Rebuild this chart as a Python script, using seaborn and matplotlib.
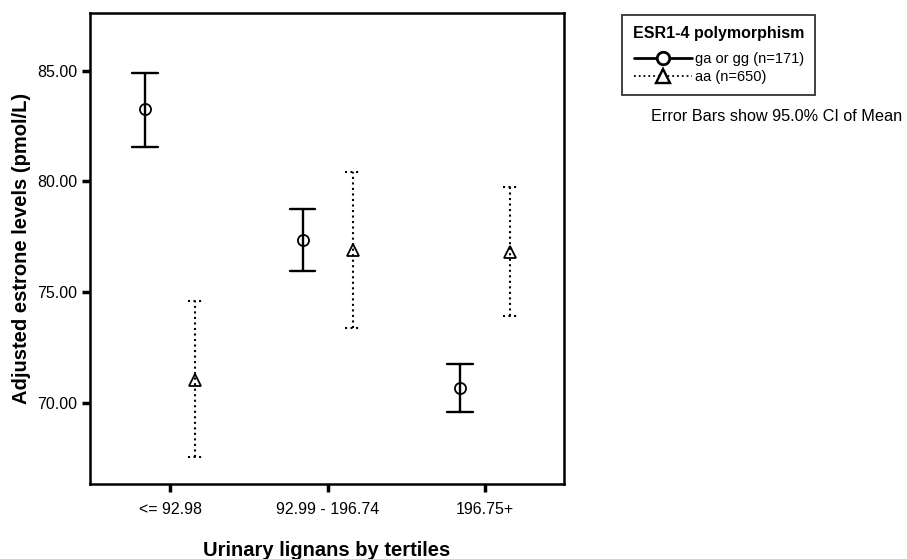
import matplotlib
matplotlib.use("Agg")
import matplotlib.pyplot as plt
from matplotlib.lines import Line2D
import seaborn as sns
import pandas as pd

tertiles = ['<= 92.98', '92.99 - 196.74', '196.75+']
genotypes = ['ga or gg (n=171)', 'aa (n=650)']

# mean and 95% CI bounds
ga_mean = [83.27, 77.34, 70.68]
ga_low = [81.58, 75.93, 69.58]
ga_high = [84.92, 78.75, 71.75]
aa_mean = [71.03, 76.91, 76.83]
aa_low = [67.56, 73.37, 73.90]
aa_high = [74.61, 80.45, 79.73]

sns.set_theme(style="white")
plt.rcParams['font.family'] = ['Liberation Sans', 'DejaVu Sans']
for k in ['text.color', 'axes.labelcolor', 'xtick.color', 'ytick.color']:
    plt.rcParams[k] = 'black'


def build(means, lows, highs, shift):
    rows = []
    for i, t in enumerate(tertiles):
        for v in (lows[i], means[i], highs[i]):
            rows.append({'pos': i + shift, 'value': v})
    return pd.DataFrame(rows)


df_ga = build(ga_mean, ga_low, ga_high, -0.16)
df_aa = build(aa_mean, aa_low, aa_high, 0.16)

fig = plt.figure(figsize=(9.07, 5.59), dpi=100)
ax = fig.add_axes([0.0992, 0.1342, 0.5226, 0.8426])

span = lambda v: (v.min(), v.max())

sns.pointplot(data=df_ga, x='pos', y='value', native_scale=True, estimator='median',
              errorbar=span, linestyle='none', marker='o', color='black',
              capsize=0.16, err_kws={'linewidth': 1.7, 'linestyle': '-'},
              markersize=8, markerfacecolor='white', markeredgewidth=1.3, ax=ax)
sns.pointplot(data=df_aa, x='pos', y='value', native_scale=True, estimator='median',
              errorbar=span, linestyle='none', marker='^', color='black',
              capsize=0.10, err_kws={'linewidth': 1.5, 'linestyle': ':'},
              markersize=9, markerfacecolor='white', markeredgewidth=1.3, ax=ax)

ax.set_xlim(-0.51, 2.5)
ax.set_ylim(66.32, 87.62)
ax.set_xticks(range(len(tertiles)))
ax.set_xticklabels(tertiles)
ax.set_yticks([70, 75, 80, 85])
ax.set_yticklabels(['70.00', '75.00', '80.00', '85.00'])
ax.tick_params(axis='both', which='major', direction='out', length=6, width=2.5,
               color='black', labelsize=11.5, pad=3, bottom=True, left=True)
ax.tick_params(axis='x', pad=7)
for s in ax.spines.values():
    s.set_linewidth(1.8)
    s.set_color('black')
ax.set_xlabel('Urinary lignans by tertiles', fontsize=14.5, fontweight='bold', labelpad=17)
ax.set_ylabel('Adjusted estrone levels (pmol/L)', fontsize=14.5, fontweight='bold', labelpad=4.5)

handles = [
    Line2D([], [], color='black', linestyle='-', linewidth=2, marker='o',
           markersize=9, markerfacecolor='white', markeredgewidth=2),
    Line2D([], [], color='black', linestyle=':', linewidth=1.3, marker='^',
           markersize=10, markerfacecolor='white', markeredgewidth=1.7),
]
leg = fig.legend(handles, genotypes, loc='upper left', bbox_to_anchor=(0.686, 0.973),
                 frameon=True, fancybox=False, edgecolor='black', fontsize=10.5,
                 title='ESR1-4 polymorphism', title_fontproperties={'weight': 'bold', 'size': 11.5},
                 handlelength=4.0, handletextpad=0.2, labelspacing=0.25, borderpad=0.75,
                 borderaxespad=0, alignment='center')
leg._legend_box.sep = 8
leg.get_frame().set_linewidth(1.3)
leg.get_title().set_color('black')

fig.text(0.718, 0.792, 'Error Bars show 95.0% CI of Mean', fontsize=11.7, ha='left', va='center')

fig.savefig('out.png', dpi=100)
